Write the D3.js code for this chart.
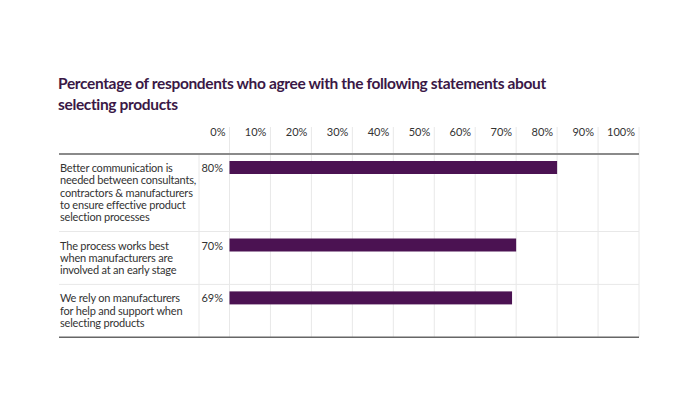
<!DOCTYPE html>
<html>
<head>
<meta charset="utf-8">
<script src="https://cdn.jsdelivr.net/npm/d3@7"></script>
<style>
  body { margin: 0; background: #fff; }
  svg { display: block; font-family: Lato, 'Open Sans', sans-serif; }
</style>
</head>
<body>
<svg id="chart" width="700" height="394"></svg>
<script>
const titleLines = [
  'Percentage of respondents who agree with the following statements about',
  'selecting products'
]
const statements = [
  ['Better communication is', 'needed between consultants,', 'contractors & manufacturers', 'to ensure effective product', 'selection processes'],
  ['The process works best', 'when manufacturers are', 'involved at an early stage'],
  ['We rely on manufacturers', 'for help and support when', 'selecting products']
]
const values = [80, 70, 69]
const ticks = [0, 10, 20, 30, 40, 50, 60, 70, 80, 90, 100]

document.addEventListener('DOMContentLoaded', function () {
  drawChart()
})

function drawChart() {
  const svg = d3.select('#chart')
  const left = 59, right = 639, top = 154, lineH = 12.3
  const gridTop = 127

  svg.append('g')
    .selectAll('text')
    .data(titleLines)
    .join('text')
    .attr('x', 58)
    .attr('y', (d, i) => 89 + i * 21)
    .attr('fill', '#3a1846')
    .attr('font-size', 15.5)
    .attr('font-weight', 700)
    .attr('letter-spacing', -0.35)
    .text(d => d)

  const x = d3.scaleLinear().domain([0, 100]).range([229.5, 639])

  // row extents from number of label lines
  const rows = []
  let y0 = top
  statements.forEach((s, i) => {
    const h = 16 + s.length * lineH
    rows.push({ lines: s, value: values[i], y: y0, h: h })
    y0 += h
  })
  const bottom = y0

  // grid
  svg.append('g')
    .selectAll('line')
    .data(ticks)
    .join('line')
    .attr('x1', d => x(d)).attr('x2', d => x(d))
    .attr('y1', gridTop).attr('y2', bottom)
    .attr('stroke', '#e8e8e8')
    .attr('stroke-width', 1)

  svg.append('line')
    .attr('x1', 199).attr('x2', 199)
    .attr('y1', top).attr('y2', bottom)
    .attr('stroke', '#e8e8e8')

  svg.append('g')
    .selectAll('line')
    .data(rows.slice(1))
    .join('line')
    .attr('x1', left).attr('x2', right)
    .attr('y1', d => d.y).attr('y2', d => d.y)
    .attr('stroke', '#e8e8e8')

  // tick labels
  svg.append('g')
    .selectAll('text')
    .data(ticks)
    .join('text')
    .attr('x', d => x(d) - 4)
    .attr('y', 136)
    .attr('text-anchor', 'end')
    .attr('font-size', 11)
    .attr('fill', '#333')
    .text(d => d + '%')

  svg.append('line')
    .attr('x1', left).attr('x2', right)
    .attr('y1', top).attr('y2', top)
    .attr('stroke', '#8a8a8a')
    .attr('stroke-width', 2)

  svg.append('line')
    .attr('x1', left).attr('x2', right)
    .attr('y1', bottom).attr('y2', bottom)
    .attr('stroke', '#666')
    .attr('stroke-width', 1.5)

  const row = svg.append('g')
    .selectAll('g')
    .data(rows)
    .join('g')
    .attr('transform', d => `translate(0,${d.y})`)

  row.append('rect')
    .attr('x', x(0))
    .attr('y', 7)
    .attr('width', d => x(d.value) - x(0))
    .attr('height', 13)
    .attr('fill', '#4b1252')

  row.append('text')
    .attr('x', 223)
    .attr('y', 18)
    .attr('text-anchor', 'end')
    .attr('font-size', 11)
    .attr('fill', '#333')
    .text(d => d.value + '%')

  row.append('text')
    .attr('font-size', 11)
    .attr('letter-spacing', -0.2)
    .attr('fill', '#333')
    .selectAll('tspan')
    .data(d => d.lines)
    .join('tspan')
    .attr('x', 60)
    .attr('y', (d, i) => 18 + i * lineH)
    .text(d => d)
}
</script>
</body>
</html>
